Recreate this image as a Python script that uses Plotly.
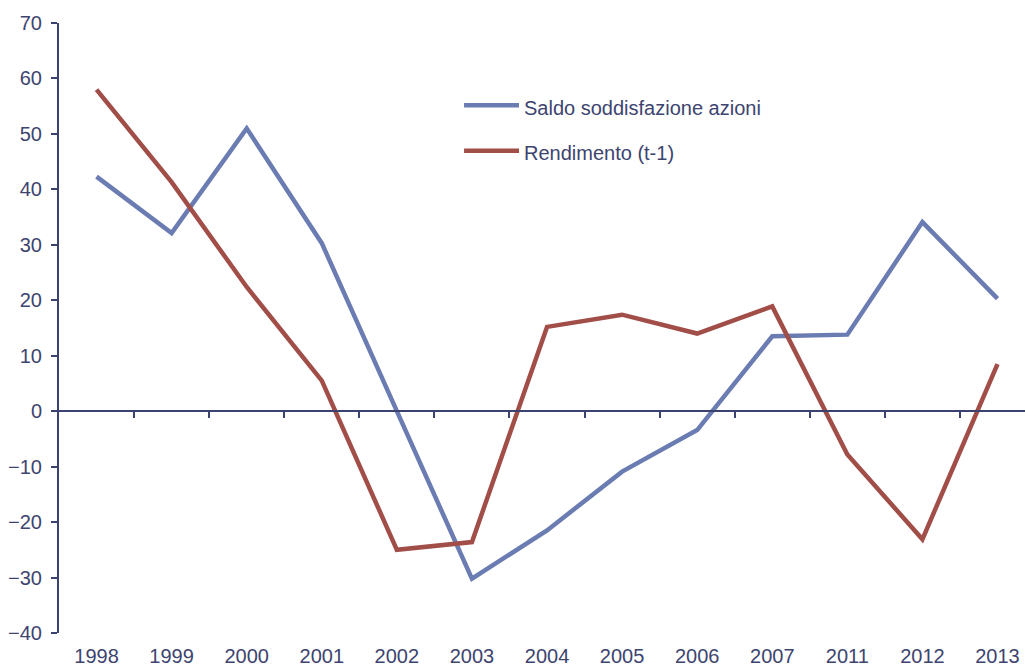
import plotly.graph_objects as go

# Categories (years) and the two series
years = ["1998", "1999", "2000", "2001", "2002", "2003", "2004",
         "2005", "2006", "2007", "2011", "2012", "2013"]
saldo_azioni = [42.3, 32.1, 51.0, 30.3, 0.0, -30.2, -21.5,
                -10.9, -3.4, 13.5, 13.8, 34.1, 20.3]
rendimento = [58.0, 41.3, 22.4, 5.5, -25.0, -23.6, 15.2,
              17.4, 14.0, 18.9, -7.8, -23.1, 8.5]

name_saldo = "Saldo soddisfazione azioni"
name_rend = "Rendimento (t-1)"

y_ticks = list(range(-40, 71, 10))

BLUE = "#6a7cb2"
RED = "#a24e48"
INK = "#3d4470"
AXIS = "#3b4270"
FONT = "Liberation Sans, Arial, sans-serif"

pos = list(range(len(years)))
x_range = [-0.5, -0.5 + 966 / 75.08]
y_range = [-40, 70]

fig = go.Figure()
fig.add_trace(go.Scatter(x=pos, y=saldo_azioni, mode="lines", name=name_saldo,
                         line=dict(color=BLUE, width=4.5), showlegend=False))
fig.add_trace(go.Scatter(x=pos, y=rendimento, mode="lines", name=name_rend,
                         xaxis="x2", line=dict(color=RED, width=4.5), showlegend=False))

# position of the y=0 line within the plotting area (paper units)
zero_pos = (0 - y_range[0]) / (y_range[1] - y_range[0])

fig.update_layout(
    width=1025, height=666,
    margin=dict(l=59, r=0, t=23, b=33),
    paper_bgcolor="white", plot_bgcolor="white",
    font=dict(family=FONT, size=20, color=INK),
    xaxis=dict(range=x_range, tickmode="array", tickvals=pos, ticktext=years,
               showgrid=False, zeroline=False, showline=False, automargin=False,
               ticks="outside", ticklen=5, tickcolor="rgba(0,0,0,0)",
               tickfont=dict(size=20, color=INK)),
    xaxis2=dict(range=x_range, overlaying="x", anchor="free", position=zero_pos,
                side="bottom", showline=True, linecolor=AXIS, linewidth=2,
                tickmode="array", tickvals=[p + 0.5 for p in pos[:-1]],
                ticks="outside", ticklen=6, tickwidth=2, tickcolor=AXIS,
                showticklabels=False, showgrid=False, zeroline=False,
                automargin=False),
    yaxis=dict(range=y_range, tickmode="array", tickvals=y_ticks,
               showgrid=False, zeroline=False, showline=True, automargin=False,
               linecolor=AXIS, linewidth=2, ticks="outside", ticklen=6,
               tickwidth=2, tickcolor=AXIS, ticklabelstandoff=5,
               tickfont=dict(size=20, color=INK)),
    showlegend=False,
)

# legend drawn as line samples with labels
legend_items = [(name_saldo, BLUE, 0.8651), (name_rend, RED, 0.7907)]
for label, color, ly in legend_items:
    fig.add_shape(type="line", xref="paper", yref="paper",
                  x0=0.4193, x1=0.4762, y0=ly, y1=ly,
                  line=dict(color=color, width=4.5))
    fig.add_annotation(text=label, xref="paper", yref="paper",
                       x=0.4793, y=ly - 0.004, xanchor="left", yanchor="middle",
                       showarrow=False, font=dict(size=20, color=INK, family=FONT))

fig.write_html("out.html")
